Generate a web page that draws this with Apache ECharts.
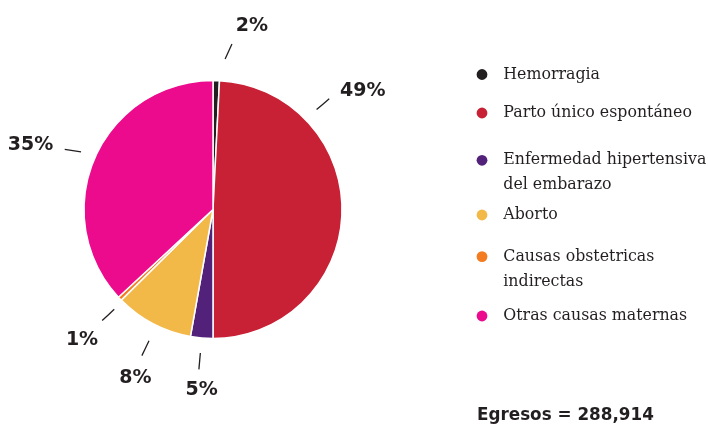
<!DOCTYPE html>
<html><head><meta charset="utf-8">
<script src="https://cdn.jsdelivr.net/npm/echarts@6/dist/echarts.min.js"></script>
<style>html,body{margin:0;padding:0;background:#fff}#c{width:708px;height:424px}</style>
</head><body><div id="c"></div>
<script>
// ---- data ----
const categories = ['Hemorragia','Parto único espontáneo','Enfermedad hipertensiva del embarazo','Aborto','Causas obstetricas indirectas','Otras causas maternas'];
const legendLabels = ['Hemorragia','Parto único espontáneo','Enfermedad hipertensiva\ndel embarazo','Aborto','Causas obstetricas\nindirectas','Otras causas maternas'];
const values = [2311, 142146, 8090, 28314, 1445, 106608];
const pctLabels = ['2%','49%','5%','8%','1%','35%'];
const totalLabel = 'Egresos = 288,914';
const colors = ['#231f20','#c82034','#52217a','#f2b948','#f47c20','#ec0b8d'];

// ---- layout ----
const cx = 213, cy = 209.5, R = 129;
const lineR1 = 144, lineLen = 16.5, labelGap = 11;
const lineRadiusOverride = {0: 151, 3: 146, 4: 140.4};
const lineStartOverride = {0: 4.6, 1: 46, 3: 206, 4: 224.7};
const lineDirOverride = {0: 24.5, 1: 50, 3: 205.6, 4: 227, 5: 279};
const labelDirOverride = {0: 46.4, 1: 75, 2: 172, 3: 197};
const legendDotY = [74.5, 113, 160.3, 215, 256.6, 316];
const dotD = 10.8;

const total = values.reduce((a, b) => a + b, 0);
const mids = []; let acc = 0;
values.forEach(v => { mids.push((acc + v / 2) / total * 360); acc += v; });
function pt(r, a) { const t = a * Math.PI / 180; return [cx + r * Math.sin(t), cy - r * Math.cos(t)]; }

const chart = echarts.init(document.getElementById('c'), null, {renderer: 'canvas'});
const legends = categories.map((n, i) => {
  const multi = legendLabels[i].indexOf('\n') >= 0;
  const txt = multi ? '\n' + legendLabels[i] : legendLabels[i];
  const lines = txt.split('\n').length;
  return {
    data: [n], orient: 'vertical', left: 476.6,
    top: legendDotY[i] - dotD / 2 - Math.max(0, (lines * 25) / 2 - dotD / 2),
    padding: 0, itemWidth: 32.6, itemHeight: dotD, itemGap: 0, icon: 'circle',
    symbolKeepAspect: true, selectedMode: false,
    itemStyle: {borderWidth: 0},
    formatter: () => txt,
    textStyle: {fontFamily: 'DejaVu Serif', fontSize: 15.8, color: '#231f20', lineHeight: 25}
  };
});

chart.setOption({
  animation: false,
  color: colors,
  title: {text: totalLabel, left: 477, top: 407, padding: 0,
    textStyle: {fontFamily: 'DejaVu Sans', fontWeight: 'bold', fontSize: 16.8, color: '#231f20'}},
  legend: legends,
  series: [{
    type: 'pie', center: [cx, cy], radius: [0, R], startAngle: 90, clockwise: true,
    avoidLabelOverlap: false, silent: true,
    itemStyle: {borderColor: '#fff', borderWidth: 1.5},
    data: categories.map((n, i) => ({name: n, value: values[i]})),
    label: {show: true, position: 'outside', formatter: p => pctLabels[p.dataIndex],
      fontFamily: 'DejaVu Sans', fontWeight: 'bold', fontSize: 19, color: '#231f20'},
    labelLine: {show: true, length: 10, length2: 0, lineStyle: {color: '#231f20', width: 1.3}},
    labelLayout: function (p) {
      const i = p.dataIndex;
      const r1 = (i in lineRadiusOverride) ? lineRadiusOverride[i] : lineR1;
      const a = (i in lineStartOverride) ? lineStartOverride[i] : mids[i];
      const b = (i in lineDirOverride) ? lineDirOverride[i] : a;
      const g = (i in labelDirOverride) ? labelDirOverride[i] : b;
      const s = pt(r1, a);
      const tb = b * Math.PI / 180;
      const e = [s[0] + lineLen * Math.sin(tb), s[1] - lineLen * Math.cos(tb)];
      const tg = g * Math.PI / 180;
      const hw = p.labelRect.width / 2, hh = 7;
      const off = labelGap + hw * Math.abs(Math.sin(tg)) + hh * Math.abs(Math.cos(tg));
      return {x: e[0] + off * Math.sin(tg), y: e[1] - off * Math.cos(tg) + 1,
        align: 'center', verticalAlign: 'middle',
        labelLinePoints: [s, [(s[0] + e[0]) / 2, (s[1] + e[1]) / 2], e]};
    }
  }]
});
</script></body></html>
